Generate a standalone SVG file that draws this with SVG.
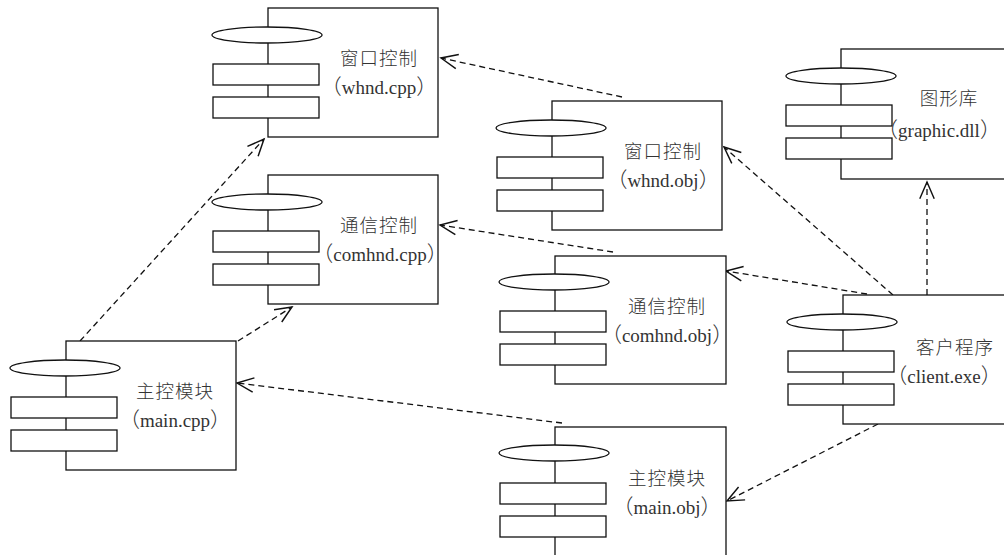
<svg xmlns="http://www.w3.org/2000/svg" width="1004" height="555" viewBox="0 0 1004 555">
<style>
.box{fill:#fff;stroke:#111;stroke-width:1.3}
.part{fill:#fff;stroke:#111;stroke-width:1.3}
.t1{font-family:"Noto Sans CJK SC",serif;font-size:18.5px;font-weight:300;fill:#333;text-anchor:middle;letter-spacing:1px}
.t2{font-family:"Liberation Serif","Times New Roman",serif;font-size:19px;fill:#333;text-anchor:middle}
.p{font-family:"Noto Sans CJK SC",sans-serif;font-weight:300;font-size:21px}
.dep{fill:none;stroke:#111;stroke-width:1.3;stroke-dasharray:6 4;marker-end:url(#arr)}
</style>
<defs>
<marker id="arr" markerUnits="userSpaceOnUse" markerWidth="20" markerHeight="20" viewBox="-16 -8 18 16" refX="0" refY="0" orient="auto">
<path d="M-15,-6.5 L0,0 L-15,6.5" fill="none" stroke="#111" stroke-width="1.3" stroke-dasharray="none"/>
</marker>
<g id="comp">
<rect class="box" x="0" y="0" width="170" height="129"/>
<ellipse class="part" cx="-1" cy="27" rx="55" ry="8"/>
<rect class="part" x="-55" y="56" width="106" height="21"/>
<rect class="part" x="-55" y="89" width="106" height="21"/>
</g>
</defs>
<rect width="1004" height="555" fill="#fff"/>
<g id="connectors">
<line class="dep" x1="622" y1="97" x2="441" y2="58"/>
<line class="dep" x1="80" y1="341" x2="264" y2="139"/>
<line class="dep" x1="238" y1="341" x2="292" y2="307"/>
<line class="dep" x1="613" y1="252" x2="440" y2="225"/>
<line class="dep" x1="562" y1="423" x2="237" y2="383"/>
<line class="dep" x1="893" y1="295" x2="724" y2="147"/>
<line class="dep" x1="867" y1="294" x2="726" y2="271"/>
<line class="dep" x1="927" y1="295" x2="927" y2="182"/>
<line class="dep" x1="878" y1="424" x2="727" y2="501"/>
</g>
<g id="whnd-cpp">
<use href="#comp" x="268" y="8"/>
<text class="t1" x="379" y="65">窗口控制</text>
<text class="t2" x="379" y="94"><tspan class="p">（</tspan>whnd.cpp<tspan class="p">）</tspan></text>
</g>
<g id="comhnd-cpp">
<use href="#comp" x="268" y="175"/>
<text class="t1" x="379" y="232">通信控制</text>
<text class="t2" x="380" y="261"><tspan class="p">（</tspan>comhnd.cpp<tspan class="p">）</tspan></text>
</g>
<g id="main-cpp">
<use href="#comp" x="66" y="341"/>
<text class="t1" x="175" y="398">主控模块</text>
<text class="t2" x="175" y="427"><tspan class="p">（</tspan>main.cpp<tspan class="p">）</tspan></text>
</g>
<g id="whnd-obj">
<use href="#comp" x="552" y="101"/>
<text class="t1" x="663" y="158">窗口控制</text>
<text class="t2" x="663" y="187"><tspan class="p">（</tspan>whnd.obj<tspan class="p">）</tspan></text>
</g>
<g id="comhnd-obj">
<rect class="box" x="555" y="256" width="171" height="128"/>
<ellipse class="part" cx="554" cy="282" rx="55" ry="8"/>
<rect class="part" x="500" y="311" width="106" height="21"/>
<rect class="part" x="500" y="344" width="106" height="21"/>
<text class="t1" x="667" y="313">通信控制</text>
<text class="t2" x="667" y="342"><tspan class="p">（</tspan>comhnd.obj<tspan class="p">）</tspan></text>
</g>
<g id="main-obj">
<rect class="box" x="555" y="427" width="171" height="140"/>
<ellipse class="part" cx="554" cy="453" rx="55" ry="8"/>
<rect class="part" x="500" y="483" width="106" height="21"/>
<rect class="part" x="500" y="516" width="106" height="21"/>
<text class="t1" x="667" y="485">主控模块</text>
<text class="t2" x="667" y="514"><tspan class="p">（</tspan>main.obj<tspan class="p">）</tspan></text>
</g>
<g id="graphic-dll">
<rect class="box" x="841" y="49" width="180" height="130"/>
<ellipse class="part" cx="841" cy="76" rx="55" ry="8"/>
<rect class="part" x="786" y="105" width="106" height="21"/>
<rect class="part" x="786" y="138" width="106" height="21"/>
<text class="t1" x="949" y="105">图形库</text>
<text class="t2" x="939" y="137"><tspan class="p">（</tspan>graphic.dll<tspan class="p">）</tspan></text>
</g>
<g id="client-exe">
<rect class="box" x="843" y="295" width="180" height="129"/>
<ellipse class="part" cx="842" cy="322" rx="55" ry="8"/>
<rect class="part" x="788" y="351" width="106" height="21"/>
<rect class="part" x="788" y="384" width="106" height="21"/>
<text class="t1" x="955" y="354">客户程序</text>
<text class="t2" x="944" y="383"><tspan class="p">（</tspan>client.exe<tspan class="p">）</tspan></text>
</g>
</svg>
